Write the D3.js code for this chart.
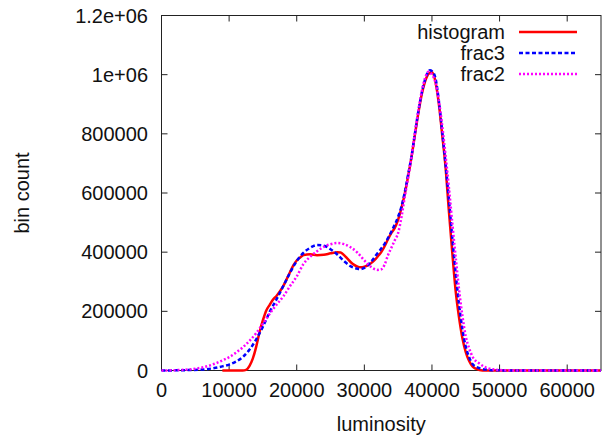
<!DOCTYPE html>
<html lang="en">
<head>
<meta charset="UTF-8">
<title>bin count vs luminosity</title>
<script src="https://d3js.org/d3.v7.min.js"></script>
<style>
  body { margin: 0; background: #fff; }
  svg { font-family: "Liberation Sans", Arial, sans-serif; }
</style>
</head>
<body>
<div id="chart"></div>
<script>
const width = 602;
const height = 437;

// data (luminosity, bin count)
const histX = [9000, 10000, 11000, 12000, 12500, 13000, 13500, 14000, 14500, 15000, 15500, 16000, 16500, 17000, 17500, 18000, 18500, 19000, 19500, 20000, 20500, 21000, 22000, 23000, 24000, 25000, 26000, 26500, 27000, 27500, 28000, 28500, 29000, 29500, 30000, 30500, 31000, 31500, 32000, 32500, 33000, 33500, 34000, 34500, 35000, 35500, 36000, 36500, 37000, 37500, 38000, 38500, 39000, 39500, 40000, 40500, 41000, 41500, 42000, 42500, 43000, 43500, 44000, 44500, 45000, 45500, 46000, 46500, 47000, 48000, 50000, 65000];
const histY = [0, 0, 0, 0, 2000, 15000, 40000, 80000, 130000, 170000, 203000, 222000, 240000, 252000, 267000, 285000, 308000, 332000, 355000, 372000, 382000, 390000, 393000, 390000, 391000, 396000, 400000, 399000, 390000, 378000, 366000, 357000, 351000, 349000, 351000, 355000, 363000, 373000, 386000, 400000, 420000, 444000, 465000, 482000, 510000, 550000, 600000, 660000, 725000, 800000, 872000, 935000, 978000, 1003000, 1008000, 978000, 905000, 800000, 690000, 540000, 400000, 270000, 180000, 110000, 62000, 32000, 14000, 6000, 2000, 0, 0, 0];

const frac3X = [0, 2000, 4000, 6000, 8000, 9000, 10000, 11000, 12000, 13000, 14000, 15000, 16000, 17000, 18000, 19000, 20000, 21000, 22000, 23000, 24000, 25000, 26000, 27000, 28000, 29000, 29500, 30000, 31000, 32000, 33000, 34000, 35000, 35500, 36000, 36500, 37000, 37500, 38000, 38500, 39000, 39700, 40000, 40500, 41000, 41500, 42000, 42500, 43000, 43500, 44000, 44500, 45000, 45500, 46000, 47000, 48000, 50000, 52000, 65000];
const frac3Y = [0, 500, 1500, 3000, 9000, 14000, 20000, 30000, 45000, 70000, 105000, 148000, 198000, 240000, 285000, 330000, 370000, 398000, 415000, 424000, 422000, 410000, 392000, 370000, 352000, 344000, 343000, 347000, 368000, 398000, 428000, 470000, 520000, 555000, 605000, 665000, 728000, 805000, 878000, 940000, 985000, 1015000, 1012000, 990000, 915000, 810000, 700000, 580000, 450000, 330000, 225000, 140000, 80000, 45000, 22000, 8000, 3000, 500, 0, 0];

const frac2X = [0, 2000, 4000, 6000, 7000, 8000, 9000, 10000, 11000, 12000, 13000, 14000, 15000, 16000, 17000, 18000, 19000, 20000, 21000, 22000, 23000, 24000, 25000, 26000, 27000, 28000, 29000, 30000, 31000, 32000, 32500, 33000, 33500, 34000, 34500, 35000, 35500, 36000, 36500, 37000, 37500, 38000, 38500, 39000, 39500, 40000, 40500, 41000, 41500, 42000, 42500, 43000, 43500, 44000, 44500, 45000, 45500, 46000, 47000, 48000, 49000, 50000, 52000, 55000, 65000];
const frac2Y = [0, 1000, 3500, 10000, 16000, 24000, 34000, 45000, 60000, 78000, 100000, 126000, 158000, 192000, 222000, 250000, 285000, 318000, 360000, 385000, 403000, 418000, 427000, 431000, 427000, 416000, 398000, 372000, 350000, 340000, 342000, 358000, 390000, 415000, 440000, 465000, 520000, 590000, 655000, 725000, 805000, 880000, 945000, 990000, 1010000, 1000000, 975000, 915000, 830000, 730000, 620000, 500000, 385000, 275000, 185000, 115000, 75000, 47000, 24000, 10000, 4000, 1500, 300, 0, 0];

const xTicks = [0, 10000, 20000, 30000, 40000, 50000, 60000];
const yTicks = [0, 200000, 400000, 600000, 800000, 1000000, 1200000];
const yTickLabels = ["0", "200000", "400000", "600000", "800000", "1e+06", "1.2e+06"];

const seriesNames = ["histogram", "frac3", "frac2"];
const seriesColors = ["#ff0000", "#0000ff", "#ff00ff"];
const seriesDash = [null, "4,2.5", "2,2"];

const plotLeft = 161.5, plotRight = 601, plotTop = 15.5, plotBottom = 370.5;

const x = d3.scaleLinear().domain([0, 65000]).range([plotLeft, plotRight]);
const y = d3.scaleLinear().domain([0, 1200000]).range([plotBottom, plotTop]);

const svg = d3.select("#chart")
  .append("svg")
  .attr("width", width)
  .attr("height", height);

// border box
svg.append("rect")
  .attr("x", plotLeft)
  .attr("y", plotTop)
  .attr("width", plotRight - plotLeft)
  .attr("height", plotBottom - plotTop)
  .attr("fill", "none")
  .attr("stroke", "#222")
  .attr("stroke-width", 1);

// ticks, mirrored on top and right like gnuplot
const tickLen = 6;
xTicks.forEach(t => {
  svg.append("line").attr("x1", x(t)).attr("x2", x(t))
    .attr("y1", plotBottom).attr("y2", plotBottom - tickLen).attr("stroke", "#222");
  svg.append("line").attr("x1", x(t)).attr("x2", x(t))
    .attr("y1", plotTop).attr("y2", plotTop + tickLen).attr("stroke", "#222");
});
yTicks.forEach(t => {
  svg.append("line").attr("x1", plotLeft).attr("x2", plotLeft + tickLen)
    .attr("y1", y(t)).attr("y2", y(t)).attr("stroke", "#222");
  svg.append("line").attr("x1", plotRight).attr("x2", plotRight - tickLen)
    .attr("y1", y(t)).attr("y2", y(t)).attr("stroke", "#222");
});

// tick labels
svg.selectAll(".xlab")
  .data(xTicks)
  .join("text")
  .attr("x", d => x(d))
  .attr("y", 397)
  .attr("text-anchor", "middle")
  .attr("font-size", "20px")
  .attr("fill", "#111")
  .text(d => d);

svg.selectAll(".ylab")
  .data(yTicks)
  .join("text")
  .attr("x", 148)
  .attr("y", d => y(d) + 7)
  .attr("text-anchor", "end")
  .attr("font-size", "20px")
  .attr("fill", "#111")
  .text((d, i) => yTickLabels[i]);

// axis titles
svg.append("text")
  .attr("x", (plotLeft + plotRight) / 2)
  .attr("y", 431)
  .attr("text-anchor", "middle")
  .attr("font-size", "20px")
  .attr("fill", "#111")
  .text("luminosity");

svg.append("text")
  .attr("transform", `translate(29, ${(plotTop + plotBottom) / 2}) rotate(-90)`)
  .attr("text-anchor", "middle")
  .attr("font-size", "20px")
  .attr("fill", "#111")
  .text("bin count");

// curves
const series = [
  d3.zip(histX, histY),
  d3.zip(frac3X, frac3Y),
  d3.zip(frac2X, frac2Y)
];

const line = d3.line()
  .x(d => x(d[0]))
  .y(d => y(d[1]))
  .curve(d3.curveMonotoneX);

series.forEach((s, i) => {
  svg.append("path")
    .datum(s)
    .attr("d", line)
    .attr("fill", "none")
    .attr("stroke", seriesColors[i])
    .attr("stroke-width", 2.5)
    .attr("stroke-dasharray", seriesDash[i]);
});

// legend
seriesNames.forEach((name, i) => {
  const cy = 32 + i * 21;
  svg.append("text")
    .attr("x", 505)
    .attr("y", cy + 7)
    .attr("text-anchor", "end")
    .attr("font-size", "20px")
    .attr("fill", "#111")
    .text(name);
  svg.append("line")
    .attr("x1", 519).attr("x2", 577)
    .attr("y1", cy).attr("y2", cy)
    .attr("stroke", seriesColors[i])
    .attr("stroke-width", 2.5)
    .attr("stroke-dasharray", seriesDash[i]);
});
</script>
</body>
</html>
